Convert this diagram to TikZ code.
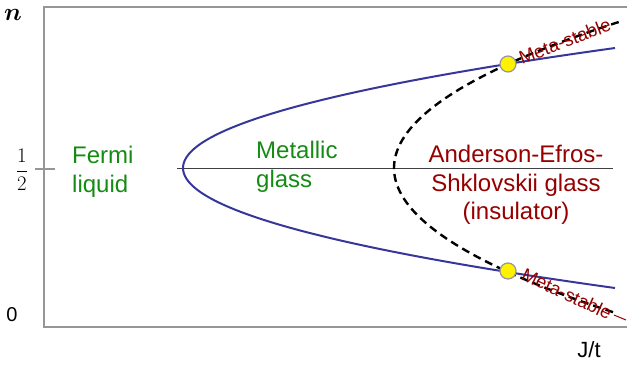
\documentclass[tikz,border=0pt]{standalone}
\usepackage{fontspec}
\setmainfont{Liberation Sans}
\usepackage{amsmath}
\definecolor{axisgray}{RGB}{150,150,150}
\definecolor{curveblue}{RGB}{55,55,155}
\definecolor{txtgreen}{RGB}{20,140,20}
\definecolor{txtred}{RGB}{150,0,0}
\begin{document}
\begin{tikzpicture}[x=1pt,y=-1pt,
  axis/.style={draw=axisgray,line width=2.5pt},
  lbl/.style={inner sep=0pt,font=\fontsize{24}{28.5}\selectfont},
  meta/.style={inner sep=0pt,text=txtred,font=\fontsize{18.5}{20}\selectfont},
  dot/.style={circle,fill=yellow,draw=axisgray,line width=1.2pt,minimum size=16pt,inner sep=0pt}]
\useasboundingbox (0,0) rectangle (627,365);
% axes frame
\coordinate (tl) at (44,7);
\coordinate (tr) at (627,7);
\coordinate (bl) at (44,327);
\coordinate (br) at (627,327);
\draw[axis] (tr) -- (tl) -- (bl) -- (br);
\coordinate (tk1) at (35,169);
\coordinate (tk2) at (55,169);
\draw[axis,line width=1.5pt] (tk1) -- (tk2);
% half-filling line
\coordinate (h1) at (177,168);
\coordinate (h2) at (613,168);
\draw[black!75,line width=1pt] (h1) -- (h2);
% blue parabola
\draw[curveblue,line width=2pt,smooth,samples=80,domain=-120:120,variable=\t]
  plot ({183+(0.1732*\t)*(0.1732*\t)},{168+\t});
% dashed parabola
\draw[black,line width=2.4pt,dash pattern=on 8pt off 5pt,smooth,samples=80,domain=-146:145,variable=\t]
  plot ({394+(0.10267*\t)*(0.10267*\t)},{168+\t});
% dots
\node[dot] (d1) at (508,64) {};
\node[dot] (d2) at (508,271) {};
% meta-stable labels
\node[meta,rotate=21,anchor=south west] (m1) at (522,65) {Meta-stable};
\node[meta,rotate=-25,anchor=north west] (m2) at (526,267) {Meta-stable};
\coordinate (r1) at (614,315);
\coordinate (r2) at (626,320);
\draw[txtred,line width=1pt] (r1) -- (r2);
% axis labels
\node[inner sep=0pt,font=\fontsize{23}{23}\selectfont] (n) at (13,15) {$\boldsymbol{n}$};
\node[inner sep=0pt,font=\fontsize{22}{22}\selectfont] (half) at (22,170) {$\dfrac{1}{2}$};
\node[inner sep=0pt,font=\fontsize{20}{20}\selectfont] (zero) at (12,315) {0};
\node[inner sep=0pt,font=\fontsize{22}{22}\selectfont] (jt) at (589,350) {J/t};
% region labels
\node[lbl,text=txtgreen,align=left,anchor=west] (fl) at (72,172) {Fermi\\liquid};
\node[lbl,text=txtgreen,align=left,anchor=west] (mg) at (256,167) {Metallic\\glass};
\node[lbl,text=txtred,align=center] (aes) at (516,185) {Anderson-Efros-\\Shklovskii glass\\(insulator)};
\end{tikzpicture}
\end{document}
